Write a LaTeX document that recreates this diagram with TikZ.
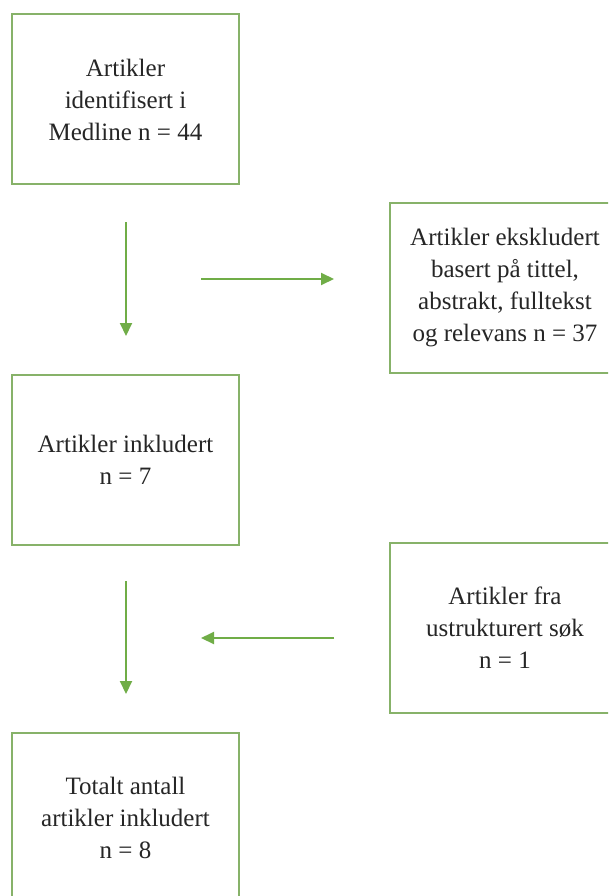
\documentclass[tikz,border=0pt]{standalone}
\usepackage{fontspec}
\setmainfont{Liberation Serif}
\usetikzlibrary{arrows.meta}
\definecolor{boxgreen}{RGB}{135,178,105}
\definecolor{arrowgreen}{RGB}{112,173,71}
\tikzset{
  flowbox/.style={draw=boxgreen, line width=2pt, minimum width=227pt, minimum height=170pt,
    align=center, text=black!85, inner sep=0pt,
    font=\fontsize{25pt}{32pt}\selectfont},
  flowarrow/.style={draw=arrowgreen, line width=2pt, -{Triangle[length=13pt,width=12pt]}}
}
\begin{document}
\begin{tikzpicture}[x=1pt,y=-1pt]
\useasboundingbox (0,0) rectangle (608,896);
\fill[white] (0,0) rectangle (608,896);
\clip (0,0) rectangle (608,896);
\node[flowbox] (b1) at (125.5,99.5) {Artikler\\identifisert i\\Medline n = 44};
\node[flowbox, minimum width=230pt] (b2) at (505,288) {Artikler ekskludert\\basert på tittel,\\abstrakt, fulltekst\\og relevans n = 37};
\node[flowbox] (b3) at (125.5,460) {Artikler inkludert\\n = 7};
\node[flowbox, minimum width=230pt] (b4) at (505,628) {Artikler fra\\ustrukturert søk\\n = 1};
\node[flowbox] (b5) at (125.5,818) {Totalt antall\\artikler inkludert\\n = 8};
\coordinate (a1s) at (126,222);
\coordinate (a1e) at (126,336);
\coordinate (a2s) at (201,279);
\coordinate (a2e) at (334,279);
\coordinate (a3s) at (126,581);
\coordinate (a3e) at (126,694);
\coordinate (a4s) at (334,638);
\coordinate (a4e) at (201,638);
\draw[flowarrow] (a1s) -- (a1e);
\draw[flowarrow] (a2s) -- (a2e);
\draw[flowarrow] (a3s) -- (a3e);
\draw[flowarrow] (a4s) -- (a4e);
\end{tikzpicture}
\end{document}
